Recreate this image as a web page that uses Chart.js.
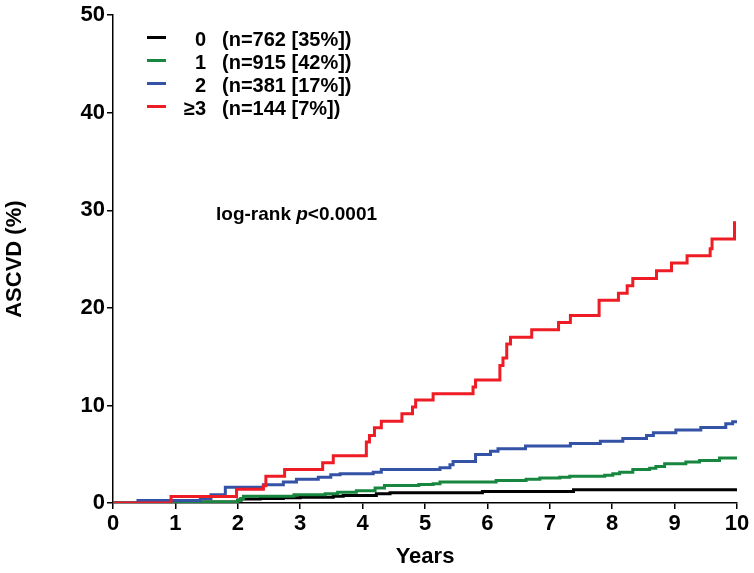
<!DOCTYPE html>
<html>
<head>
<meta charset="utf-8">
<script src="https://cdn.jsdelivr.net/npm/chart.js@4/dist/chart.umd.min.js"></script>
<style>
  html, body { margin: 0; padding: 0; background: #fff; }
  #wrap { width: 754px; height: 573px; }
</style>
</head>
<body>
<div id="wrap"><canvas id="c" width="754" height="573"></canvas></div>
<script>
// ---- Data ----
const groupLabels = ['0', '1', '2', '\u22653'];
const groupCounts = ['(n=762 [35%])', '(n=915 [42%])', '(n=381 [17%])', '(n=144 [7%])'];
const groupColors = ['#000000', '#17873f', '#3553a6', '#ee1c25'];

const xTicks = [0, 1, 2, 3, 4, 5, 6, 7, 8, 9, 10];
const yTicks = [0, 10, 20, 30, 40, 50];

const t0 = [0, 1.45, 2.0, 2.05, 2.36, 2.73, 3.0, 3.53, 3.69, 4.22, 4.44, 5.92, 7.38, 10.0];
const v0 = [0, 0.1, 0.3, 0.4, 0.45, 0.55, 0.6, 0.7, 0.77, 0.94, 1.05, 1.18, 1.35, 1.35];

const t1 = [0, 1.0, 2.0, 2.05, 2.09, 2.9, 3.4, 3.6, 3.9, 4.2, 4.35, 4.9, 5.13, 5.24, 6.14, 6.62, 6.84, 7.16, 7.32, 7.88, 8.01, 8.12, 8.33, 8.6, 8.7, 8.84, 9.18, 9.4, 9.72, 10.0];
const v1 = [0, 0.1, 0.26, 0.45, 0.7, 0.85, 0.95, 1.1, 1.25, 1.55, 1.8, 1.9, 1.97, 2.14, 2.31, 2.44, 2.55, 2.65, 2.75, 2.85, 2.99, 3.16, 3.44, 3.57, 3.74, 4.02, 4.19, 4.36, 4.6, 4.6];

const t2 = [0, 0.40, 1.40, 1.57, 1.80, 2.41, 2.73, 2.94, 3.29, 3.49, 3.64, 4.17, 4.30, 5.24, 5.40, 5.45, 5.81, 6.05, 6.17, 6.61, 7.33, 7.81, 8.17, 8.55, 8.66, 9.02, 9.42, 9.82, 9.93, 10.0];
const v2 = [0, 0.26, 0.46, 0.84, 1.62, 1.87, 2.14, 2.44, 2.65, 2.89, 3.0, 3.16, 3.44, 3.61, 3.92, 4.26, 4.97, 5.31, 5.56, 5.83, 6.10, 6.34, 6.62, 6.92, 7.20, 7.47, 7.74, 8.12, 8.33, 8.33];

const t3 = [0, 0.93, 1.98, 2.41, 2.45, 2.75, 3.36, 3.53, 4.06, 4.11, 4.19, 4.30, 4.63, 4.80, 4.85, 5.13, 5.77, 5.81, 6.20, 6.25, 6.31, 6.37, 6.71, 7.14, 7.33, 7.79, 8.10, 8.24, 8.33, 8.71, 8.95, 9.20, 9.57, 9.60, 9.96];
const v3 = [0, 0.67, 1.42, 1.76, 2.75, 3.44, 4.12, 4.84, 6.24, 6.92, 7.71, 8.39, 9.15, 9.83, 10.55, 11.2, 11.9, 12.6, 14.1, 14.85, 16.3, 17.0, 17.76, 18.5, 19.23, 20.77, 21.5, 22.28, 23.0, 23.8, 24.6, 25.35, 26.07, 27.06, 28.87];

const annotationText = ['log-rank ', 'p', '<0.0001'];
const xTitle = 'Years';
const yTitle = 'ASCVD (%)';

// ---- Build ----
const FONT = '"Liberation Sans", Arial, Helvetica, sans-serif';
const toPts = (t, v) => t.map((x, i) => ({ x: x, y: v[i] }));
const series = [toPts(t0, v0), toPts(t1, v1), toPts(t2, v2), toPts(t3, v3)];

const datasets = series.map((pts, i) => ({
  label: groupLabels[i],
  data: pts,
  borderColor: groupColors[i],
  backgroundColor: groupColors[i],
  borderWidth: 3,
  pointRadius: 0,
  stepped: 'before',
  fill: false,
  order: 3 - i,
  borderCapStyle: 'butt',
  borderJoinStyle: 'miter'
}));

const overlay = {
  id: 'overlay',
  afterDraw(chart) {
    const ctx = chart.ctx;
    ctx.save();
    // legend
    const rowY = [40, 63, 86, 109];
    for (let i = 0; i < groupLabels.length; i++) {
      const y = rowY[i];
      ctx.fillStyle = groupColors[i];
      ctx.fillRect(147, y - 4, 19, 3);
      ctx.fillStyle = '#000';
      ctx.font = 'bold 20px ' + FONT;
      ctx.textBaseline = 'middle';
      ctx.textAlign = 'right';
      ctx.fillText(groupLabels[i], 206, y);
      ctx.textAlign = 'left';
      ctx.fillText(groupCounts[i], 222, y);
    }
    // annotation
    let x = 216;
    const y = 215;
    ctx.textAlign = 'left';
    ctx.textBaseline = 'middle';
    ctx.font = 'bold 19px ' + FONT;
    ctx.fillText(annotationText[0], x, y);
    x += ctx.measureText(annotationText[0]).width;
    ctx.font = 'italic bold 19px ' + FONT;
    ctx.fillText(annotationText[1], x, y);
    x += ctx.measureText(annotationText[1]).width;
    ctx.font = 'bold 19px ' + FONT;
    ctx.fillText(annotationText[2], x, y);
    ctx.restore();
  }
};

new Chart(document.getElementById('c'), {
  type: 'line',
  data: { datasets: datasets },
  options: {
    responsive: false,
    animation: false,
    devicePixelRatio: 1,
    layout: { padding: { top: 15, right: 17, left: 0, bottom: 0 } },
    plugins: { legend: { display: false }, tooltip: { enabled: false } },
    scales: {
      x: {
        type: 'linear',
        min: 0, max: 10,
        afterBuildTicks: s => { s.ticks = xTicks.map(v => ({ value: v })); },
        afterFit: s => { s.height = 70; },
        ticks: { color: '#000', font: { family: FONT, size: 22, weight: 'bold' }, padding: 2, maxRotation: 0, autoSkip: false },
        grid: { drawOnChartArea: false, drawTicks: true, tickLength: 6, color: '#000', lineWidth: 1.5 },
        border: { display: true, color: '#000', width: 1.5 },
        title: { display: true, text: xTitle, color: '#000', font: { family: FONT, size: 22, weight: 'bold' }, padding: { top: 4, bottom: 3 } }
      },
      y: {
        type: 'linear',
        min: 0, max: 50,
        afterBuildTicks: s => { s.ticks = yTicks.map(v => ({ value: v })); },
        afterFit: s => { s.width = 113; },
        ticks: { color: '#000', font: { family: FONT, size: 22, weight: 'bold' }, padding: 2, autoSkip: false },
        grid: { drawOnChartArea: false, drawTicks: true, tickLength: 6, color: '#000', lineWidth: 1.5 },
        border: { display: true, color: '#000', width: 1.5 },
        title: { display: true, text: yTitle, color: '#000', font: { family: FONT, size: 22, weight: 'bold' }, padding: { top: 2, bottom: 30 } }
      }
    }
  },
  plugins: [overlay]
});
</script>
</body>
</html>
